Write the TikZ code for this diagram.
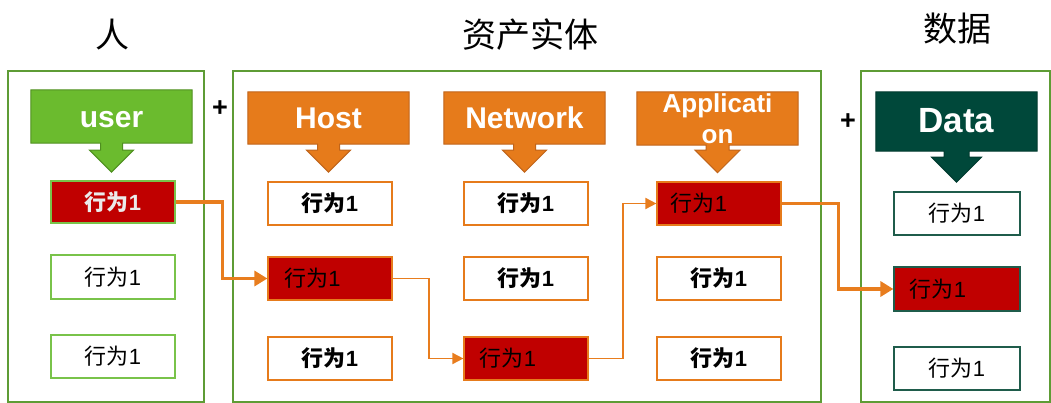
\documentclass[tikz,border=0pt]{standalone}
\usepackage{fontspec}
\setmainfont{Liberation Sans}
\newfontfamily\cjk{Noto Sans CJK SC}
\usetikzlibrary{calc,arrows.meta}
\definecolor{grp}{HTML}{5E9C35}
\definecolor{ugreen}{HTML}{6BBB2E}
\definecolor{ugreenD}{HTML}{4F8F20}
\definecolor{ulight}{HTML}{79C34A}
\definecolor{org}{HTML}{E67B1B}
\definecolor{orgD}{HTML}{C0641A}
\definecolor{dgreen}{HTML}{00483A}
\definecolor{dgreenD}{HTML}{003A2E}
\definecolor{dline}{HTML}{1F5C4B}
\definecolor{bred}{HTML}{C00000}
\definecolor{conn}{HTML}{E87D1E}
\newcommand\xw{{\cjk 行为}1}
\newcommand\xwl[1]{\xw\hspace*{#1}\mbox{}}
\newcommand\mkcallout[6]{%
  \draw[fill=#2,draw=#3,line width=1pt] (#1.north west) -- (#1.north east) -- (#1.south east)
   -- ($(#1.south)+(#4,0)$) -- ($(#1.south)+(#4,#5)$) -- ($(#1.south)+(#6,#5)$)
   -- ($(#1.south)+(0,#5+#6)$) -- ($(#1.south)+(-#6,#5)$) -- ($(#1.south)+(-#4,#5)$)
   -- ($(#1.south)+(-#4,0)$) -- (#1.south west) -- cycle;}
\begin{document}
\begin{tikzpicture}[x=1pt,y=-1pt,
  grpbox/.style={draw=grp,line width=1.3pt,inner sep=0pt},
  hdrbox/.style={inner sep=0pt,minimum width=161pt},
  hdrtext/.style={text=white,font=\bfseries\fontsize{30}{34}\selectfont,inner sep=0pt,anchor=base},
  rowbox/.style={draw,line width=1.2pt,minimum width=124pt,minimum height=43pt,inner sep=0pt,font=\fontsize{22}{26}\selectfont},
  ubox/.style={rowbox,draw=ulight},
  obox/.style={rowbox,draw=org,font=\bfseries\fontsize{22}{26}\selectfont},
  dbox/.style={rowbox,draw=dline,minimum width=126pt},
  redbox/.style={fill=bred},
  title/.style={font=\cjk\fontsize{34}{38}\selectfont,inner sep=0pt},
  plus/.style={font=\bfseries\fontsize{27}{28}\selectfont,inner sep=0pt},
  thick conn/.style={draw=conn,line width=3.5pt,-{Triangle[length=13pt,width=15pt]}},
  thin conn/.style={draw=conn,line width=1.8pt,-{Triangle[length=11pt,width=11pt]}}]
\useasboundingbox (0,0) rectangle (1051,403);
% titles
\node[title] (tpeople) at (112,35) {人};
\node[title] (tasset) at (530,35) {资产实体};
\node[title] (tdata) at (957,29) {数据};
% group frames
\node[grpbox,minimum width=196pt,minimum height=331pt] (gleft) at (106,236.5) {};
\node[grpbox,minimum width=588pt,minimum height=331pt] (gmid) at (527,236.5) {};
\node[grpbox,minimum width=189pt,minimum height=331pt] (gright) at (955.5,236.5) {};
% plus signs
\node[plus] (p1) at (220,109) {+};
\node[plus] (p2) at (848,122) {+};
% headers
\node[hdrbox,minimum height=53pt] (hu) at (111.5,116.5) {};
\mkcallout{hu}{ugreen}{ugreenD}{11}{7}{22}
\node[hdrtext] (hut) at (111.5,128) {user};
\node[hdrbox,minimum height=52pt] (hh) at (328.5,118) {};
\mkcallout{hh}{org}{orgD}{11}{6}{22}
\node[hdrtext] (hht) at (328.5,129) {Host};
\node[hdrbox,minimum height=52pt] (hn) at (524.5,118) {};
\mkcallout{hn}{org}{orgD}{11}{6}{22}
\node[hdrtext] (hnt) at (524.5,129) {Network};
\node[hdrbox,minimum height=53pt] (ha) at (717.5,118.5) {};
\mkcallout{ha}{org}{orgD}{11.5}{5}{22.5}
\node[hdrtext,anchor=center,font=\bfseries\fontsize{26}{31}\selectfont,align=center] (hat) at (717.5,119) {Applicati\\on};
\node[hdrbox,minimum height=59pt] (hd) at (956.5,121.5) {};
\mkcallout{hd}{dgreen}{dgreenD}{12.5}{6}{25}
\node[hdrtext,font=\bfseries\fontsize{35}{40}\selectfont] (hdt) at (956.5,133) {Data};
% user column
\node[ubox,redbox,text=black!8,font=\bfseries\fontsize{22}{26}\selectfont,minimum height=42pt] (u1) at (113,202) {\xw};
\node[ubox,minimum height=44pt] (u2) at (113,277) {\xw};
\node[ubox] (u3) at (113,356.5) {\xw};
% host column
\node[obox] (h1) at (330,203.5) {\xw};
\node[obox,redbox,font=\fontsize{22}{26}\selectfont] (h2) at (330,278.5) {\xwl{35pt}};
\node[obox] (h3) at (330,358.5) {\xw};
% network column
\node[obox] (n1) at (526,203.5) {\xw};
\node[obox] (n2) at (526,278.5) {\xw};
\node[obox,redbox,font=\fontsize{22}{26}\selectfont] (n3) at (526,358.5) {\xwl{36pt}};
% application column
\node[obox,redbox,font=\fontsize{22}{26}\selectfont] (a1) at (719,203.5) {\xwl{40pt}};
\node[obox] (a2) at (719,278.5) {\xw};
\node[obox] (a3) at (719,358.5) {\xw};
% data column
\node[dbox] (d1) at (957,213.5) {\xw};
\node[dbox,redbox,minimum height=44pt] (d2) at (957,289) {\xwl{38pt}};
\node[dbox] (d3) at (957,368.5) {\xw};
% connectors
\draw[thick conn] (u1.east) -- ($(u1.east)+(47,0)$) |- (h2.west);
\draw[thin conn] (h2.east) -- ($(h2.east)+(36,0)$) |- (n3.west);
\draw[thin conn] (n3.east) -- ($(n3.east)+(34,0)$) |- (a1.west);
\draw[thick conn] (a1.east) -- ($(a1.east)+(57,0)$) |- (d2.west);
\end{tikzpicture}
\end{document}
